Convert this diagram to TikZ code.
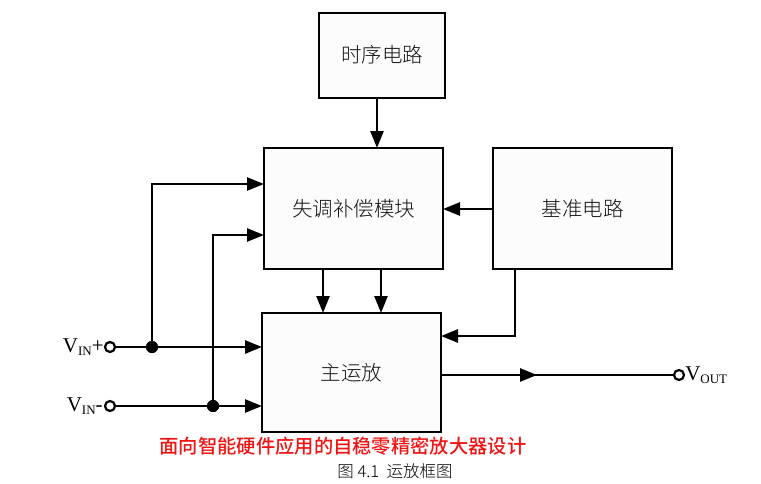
\documentclass[tikz,border=0pt]{standalone}
\usepackage{fontspec}
\setmainfont{Liberation Serif}
\newfontfamily\cjk{Noto Sans CJK SC}
\newfontfamily\cjkl{Noto Sans CJK SC Light}
\newfontfamily\cjkm{Noto Sans CJK SC Medium}
\usetikzlibrary{arrows.meta}
\begin{document}
\begin{tikzpicture}[x=1pt,y=-1pt,
  blk/.style={draw,line width=2.7pt,fill={rgb,255:red,252;green,252;blue,252},inner sep=0pt},
  btxt/.style={font=\cjkl\fontsize{20.5}{22}\selectfont,text={rgb,255:red,20;green,20;blue,20}},
  wire/.style={line width=2.6pt},
  arr/.style={wire,-{Triangle[length=17pt,width=13pt]}},
  dotn/.style={circle,fill=black,inner sep=0pt,minimum size=12pt},
  term/.style={circle,draw,line width=2.2pt,fill=white,inner sep=0pt,minimum size=10pt},
  lab/.style={font=\fontsize{21}{23}\selectfont,inner sep=0pt}]
\useasboundingbox (0,0) rectangle (761,483);
% blocks
\draw[blk] (319,13) rectangle (445,98);
\node[btxt] (ts) at (382,55) {时序电路};
\draw[blk] (264,148) rectangle (443,269);
\node[btxt] (sb) at (353.5,209) {失调补偿模块};
\draw[blk] (493,148) rectangle (672,269);
\node[btxt] (jz) at (582.5,209) {基准电路};
\draw[blk] (262,313) rectangle (441,432);
\node[btxt] (zy) at (351.5,373) {主运放};
% named anchors
\coordinate (tsb) at (377,98);
\coordinate (sbt) at (377,148);
\coordinate (jzl) at (493,209);
\coordinate (sbr) at (443,209);
\coordinate (sbb1) at (323,269);
\coordinate (zyt1) at (323,313);
\coordinate (sbb2) at (381,269);
\coordinate (zyt2) at (381,313);
\coordinate (jzb) at (515,269);
\coordinate (zyr1) at (441,336);
\coordinate (sbl1) at (264,184);
\coordinate (sbl2) at (264,235);
\coordinate (zyl1) at (262,347);
\coordinate (zyl2) at (262,406);
\coordinate (zyr2) at (441,375);
\coordinate (mid) at (537,375);
% connectors
\draw[arr] (tsb) -- (sbt);
\draw[arr] (jzl) -- (sbr);
\draw[arr] (sbb1) -- (zyt1);
\draw[arr] (sbb2) -- (zyt2);
\draw[arr] (jzb) |- (zyr1);
% inputs
\node[term] (vp) at (110,347) {};
\node[term] (vn) at (110,406) {};
\node[term] (vo) at (679,375) {};
\node[dotn] (d1) at (152,347) {};
\node[dotn] (d2) at (213,406) {};
\draw[arr] (vp) -- (zyl1);
\draw[arr] (vn) -- (zyl2);
\draw[arr] (d1.center) |- (sbl1);
\draw[arr] (d2.center) |- (sbl2);
\node[dotn] at (152,347) {};
\node[dotn] at (213,406) {};
\draw[arr] (zyr2) -- (mid);
\draw[wire] ([xshift=-2pt]mid) -- (vo);
% labels
\node[lab,anchor=east] (lp) at (vp.west) {V\raisebox{-0.35ex}{\fontsize{13}{14}\selectfont IN}+};
\node[lab,anchor=east] (ln) at ([xshift=-1pt]vn.west) {V\raisebox{-0.35ex}{\fontsize{13}{14}\selectfont IN}-};
\node[lab,anchor=west] (lo) at (vo.east) {V\raisebox{-0.35ex}{\fontsize{13}{14}\selectfont OUT}};
\node[font=\cjkm\fontsize{19.3}{21}\selectfont,text={rgb,255:red,240;green,20;blue,20}] (red) at (343,446) {面向智能硬件应用的自稳零精密放大器设计};
\node[font=\cjkl\fontsize{16.5}{18}\selectfont] (cap) at (395,471) {图 4.1\ \ 运放框图};
\end{tikzpicture}
\end{document}
